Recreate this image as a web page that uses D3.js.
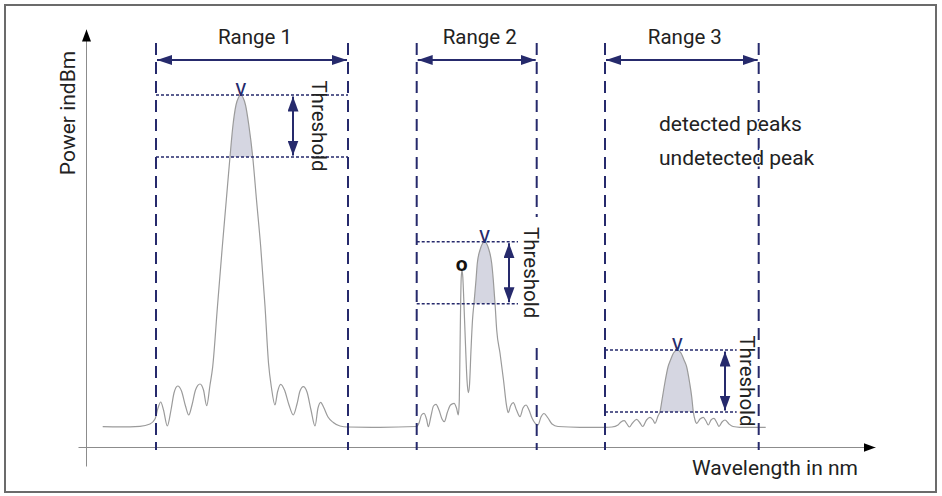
<!DOCTYPE html>
<html>
<head>
<meta charset="utf-8">
<script src="https://cdnjs.cloudflare.com/ajax/libs/d3/7.8.5/d3.min.js"></script>
<style>
  body { margin: 0; background: #fff; }
  text { font-family: Roboto, "Noto Sans", sans-serif; }
</style>
</head>
<body>
<script>
// spectrum (wavelength units, power units above the x axis)
var specX = [16.7, 34, 54, 64, 69, 72, 74.7, 77.5, 81.3, 85, 88, 91.7, 95.5, 99.5, 102.7, 106, 109.5, 114, 117.5, 120.7,
  124, 126.7, 131.5, 136.3, 140.3, 144, 147, 150, 152.5, 154.7, 157, 159.5, 162.8, 166.7, 170.5, 174.7, 179, 182.5,
  185.5, 189, 191.5, 194.7, 198.5, 203, 207.3, 211, 214, 217.3, 221, 225, 229, 232, 234.7, 237.5, 242, 247.3, 254, 262,
  294, 330.7, 333, 335.5, 338, 340.5, 342.3, 345, 347.5, 350, 353, 356, 358.3, 361.5, 364.5, 368, 370.5, 372.3,
  373.3, 374, 374.7, 375.2, 376, 376.8, 377.8, 379.5, 381, 382.3, 383.5, 385, 386.5, 388, 390, 391.3, 394, 396.5,
  398.5, 400.5, 403, 405.7, 407.3, 409, 410.7, 414, 417.5, 420.7, 422.3, 424.5, 427.3, 430.5, 434, 437, 440, 443,
  446, 452, 455, 458, 462, 466, 472, 494, 519, 526, 532, 535, 538.3, 541, 543.3, 546.5, 550.7, 554, 556.7, 560.5,
  564, 567, 569, 572, 574, 576, 579, 582, 584.5, 587.5, 591.3, 595, 598, 600.7, 603.5, 605.7, 607.3, 609, 610.7,
  614, 617.3, 620, 622.3, 625, 628, 631, 633, 636, 639, 643, 647, 654, 679.7];
var specY = [20.3, 20.2, 20.7, 23, 28, 39, 45, 37, 21, 37, 54, 61, 56, 41, 32, 42, 57, 63, 57, 41.3,
  62, 80.3, 141, 200.3, 247, 290.3, 322, 342, 349.5, 352, 349.5, 342, 322, 290.3, 247, 200.3, 141, 84,
  59, 42, 55, 62.7, 57, 42, 32, 43, 56, 60.3, 55, 37, 21, 39, 44.7, 40, 30, 24.5, 21, 20,
  19.7, 20.5, 24, 32, 33.7, 28, 20.3, 31, 41, 42.7, 37, 28, 25.3, 35, 42, 43.7, 39, 32,
  47, 97, 147, 169, 177, 170, 147, 102, 67, 54.3, 62, 97, 127, 144, 167, 183.7, 197, 203.5,
  205.3, 203.5, 197, 183.7, 167, 144, 117, 94, 67, 40.3, 34.3, 41, 44.3, 37, 30.3, 39, 42, 37,
  29, 22, 30, 33.5, 29, 23, 20.5, 19.7, 19.7, 20, 22, 25, 26.3, 23, 20, 24, 27.7, 24, 20.5, 27,
  29.7, 27, 23.7, 31, 35.3, 47, 65, 80, 87, 94, 97, 94, 87, 80, 65, 50.3, 35.3, 27, 23.7,
  28, 29.7, 26, 22, 27, 28.7, 24, 20.5, 25, 27, 23, 20.5, 19.7, 19.7];

var rangeLabels = ["Range 1", "Range 2", "Range 3"];
var rangeFrom = [70, 330.7, 519];
var rangeTo = [262, 450.7, 672.7];
var peakWl = [154.7, 398.5, 591.3];
var peakPower = [352, 205.3, 97];
var thresholdDepth = [62, 62, 62];
var undetWl = [376];
var undetPower = [177];
var legendLabels = ["detected peaks", "undetected peak"];

// annotation placement (wavelength units)
var thrArrowAt = [207, 423, 639];
var thrLineEnd = [262, 432, 650.7];

var w = 942, h = 496;
var navy = "#262a6c";

var svg = d3.select("body").append("svg")
  .attr("width", w)
  .attr("height", h);

var x = d3.scaleLinear().domain([0, 790]).range([86, 876]);
var y = d3.scaleLinear().domain([0, 417]).range([447, 30]);

var defs = svg.append("defs");
function arrowMarker(id, len, half, color) {
  defs.append("marker")
    .attr("id", id)
    .attr("markerUnits", "userSpaceOnUse")
    .attr("markerWidth", len).attr("markerHeight", half * 2)
    .attr("refX", len).attr("refY", half)
    .attr("orient", "auto-start-reverse")
    .append("path")
    .attr("d", "M0,0L" + len + "," + half + "L0," + (half * 2) + "Z")
    .attr("fill", color);
}
arrowMarker("axhead", 12, 4.5, "#000");
arrowMarker("rhead", 15, 5, navy);
arrowMarker("thead", 15, 5.5, navy);

// frame
svg.append("rect")
  .attr("x", 5).attr("y", 5)
  .attr("width", 931).attr("height", 487)
  .attr("fill", "none")
  .attr("stroke", "#6b6b6b")
  .attr("stroke-width", 2);

// axes (no ticks, just arrows)
var xa = x.copy().domain([x.invert(78), x.invert(875)]).range([78, 875]);
var ya = y.copy().domain([y.invert(466), y.invert(29)]).range([466, 29]);

var gx = svg.append("g")
  .attr("transform", "translate(0," + y(0) + ")")
  .call(d3.axisBottom(xa).tickValues([]).tickSizeOuter(0));
var gy = svg.append("g")
  .attr("transform", "translate(" + x(0) + ",0)")
  .call(d3.axisLeft(ya).tickValues([]).tickSizeOuter(0));
[gx, gy].forEach(function(g) {
  g.select(".domain")
    .attr("stroke", "#8c8c8c")
    .attr("stroke-width", 1)
    .attr("marker-end", "url(#axhead)");
});

var pts = specX.map(function(d, i) { return [d, specY[i]]; });

// shaded part of each detected peak above its threshold
peakWl.forEach(function(p, i) {
  var tb = peakPower[i] - thresholdDepth[i];
  var pk = d3.minIndex(specX, function(d) { return Math.abs(d - p); });
  var a = pk, b = pk;
  while (a > 0 && specY[a] > tb) a--;
  while (b < specY.length - 1 && specY[b] > tb) b++;
  var sub = pts.slice(Math.max(0, a - 2), Math.min(pts.length, b + 3));

  defs.append("clipPath").attr("id", "clip" + i)
    .append("rect")
    .attr("x", x(specX[a])).attr("y", 0)
    .attr("width", x(specX[b]) - x(specX[a]))
    .attr("height", y(tb));

  svg.append("path")
    .datum(sub)
    .attr("clip-path", "url(#clip" + i + ")")
    .attr("fill", "#d5d6e1")
    .attr("d", d3.area()
      .curve(d3.curveMonotoneX)
      .x(function(d) { return x(d[0]); })
      .y0(y(tb))
      .y1(function(d) { return y(d[1]); }));
});

// spectrum
svg.append("path")
  .datum(pts)
  .attr("fill", "none")
  .attr("stroke", "#9b9b9b")
  .attr("stroke-width", 1.2)
  .attr("d", d3.line()
    .curve(d3.curveMonotoneX)
    .x(function(d) { return x(d[0]); })
    .y(function(d) { return y(d[1]); }));

// threshold dotted lines
peakWl.forEach(function(p, i) {
  var tb = peakPower[i] - thresholdDepth[i];
  [peakPower[i], tb].forEach(function(v) {
    svg.append("line")
      .attr("x1", x(rangeFrom[i])).attr("x2", x(thrLineEnd[i]))
      .attr("y1", y(v)).attr("y2", y(v))
      .attr("stroke", navy)
      .attr("stroke-width", 1.5)
      .attr("stroke-dasharray", "3,2");
  });
  svg.append("line")
    .attr("x1", x(thrArrowAt[i])).attr("x2", x(thrArrowAt[i]))
    .attr("y1", y(peakPower[i]) + 1.5).attr("y2", y(tb) - 1.5)
    .attr("stroke", navy)
    .attr("stroke-width", 2)
    .attr("marker-start", "url(#thead)")
    .attr("marker-end", "url(#thead)");
});

// range boundaries
var gaps = [null, [217, 348], null];
rangeLabels.forEach(function(r, i) {
  [rangeFrom[i], rangeTo[i]].forEach(function(v, k) {
    var segs = [[43, 450]];
    if (k === 1 && gaps[i]) segs = [[43, gaps[i][0]], [gaps[i][1], 450]];
    segs.forEach(function(s) {
      svg.append("line")
        .attr("x1", x(v)).attr("x2", x(v))
        .attr("y1", s[0]).attr("y2", s[1])
        .attr("stroke", navy)
        .attr("stroke-width", 2)
        .attr("stroke-dasharray", "12,7");
    });
  });
  svg.append("line")
    .attr("x1", x(rangeFrom[i]) + 1).attr("x2", x(rangeTo[i]) - 1)
    .attr("y1", 60).attr("y2", 60)
    .attr("stroke", navy)
    .attr("stroke-width", 2)
    .attr("marker-start", "url(#rhead)")
    .attr("marker-end", "url(#rhead)");
  svg.append("text")
    .attr("x", (x(rangeFrom[i]) + x(rangeTo[i])) / 2 + 3)
    .attr("y", 44)
    .attr("text-anchor", "middle")
    .attr("font-size", 20.5)
    .attr("fill", "#222")
    .text(r);
});

// threshold labels
var thrLabelX = [312, 523.5, 740];
peakWl.forEach(function(p, i) {
  var tb = peakPower[i] - thresholdDepth[i];
  var cy = (y(peakPower[i]) + y(tb)) / 2;
  svg.append("text")
    .attr("transform", "translate(" + thrLabelX[i] + "," + cy + ") rotate(90)")
    .attr("text-anchor", "middle")
    .attr("font-size", 20.5)
    .attr("fill", "#222")
    .text("Threshold");
});

// peak markers
svg.selectAll(".vmark")
  .data(peakWl)
  .enter()
  .append("text")
  .attr("class", "vmark")
  .attr("x", function(d) { return x(d); })
  .attr("y", function(d, i) { return y(peakPower[i]) + 1; })
  .attr("text-anchor", "middle")
  .attr("font-size", 23)
  .attr("fill", navy)
  .text("v");

svg.selectAll(".omark")
  .data(undetWl)
  .enter()
  .append("text")
  .attr("class", "omark")
  .attr("x", function(d) { return x(d) - 0.3; })
  .attr("y", function(d, i) { return y(undetPower[i]) + 1; })
  .attr("text-anchor", "middle")
  .attr("font-size", 21)
  .attr("font-weight", "bold")
  .attr("fill", "#111")
  .text("o");

// legend text
svg.selectAll(".leg")
  .data(legendLabels)
  .enter()
  .append("text")
  .attr("class", "leg")
  .attr("x", 659)
  .attr("y", function(d, i) { return 131 + i * 34; })
  .attr("font-size", 21)
  .attr("fill", "#222")
  .attr("stroke", "#fff")
  .attr("stroke-width", 3)
  .attr("paint-order", "stroke")
  .text(function(d) { return d; });

// axis titles
svg.append("text")
  .attr("transform", "translate(75,113) rotate(-90)")
  .attr("text-anchor", "middle")
  .attr("font-size", 21)
  .attr("fill", "#222")
  .text("Power indBm");

svg.append("text")
  .attr("x", 858)
  .attr("y", 475)
  .attr("text-anchor", "end")
  .attr("font-size", 21)
  .attr("fill", "#222")
  .text("Wavelength in nm");
</script>
</body>
</html>
